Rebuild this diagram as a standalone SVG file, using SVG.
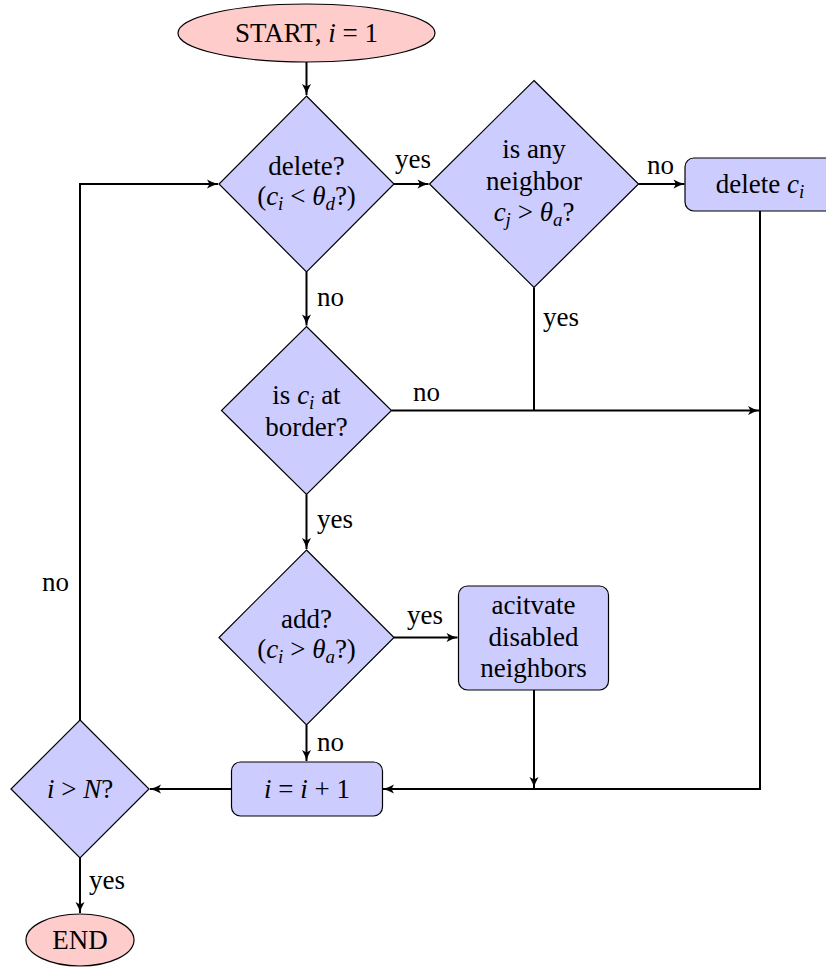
<svg xmlns="http://www.w3.org/2000/svg" width="826" height="967" viewBox="0 0 826 967">
<defs>
<marker id="a" markerUnits="userSpaceOnUse" markerWidth="14" markerHeight="12" viewBox="-12 -6 14 12" refX="0" refY="0" orient="auto">
<path d="M-11,-4.5 Q-5,-1 0,0 Q-5,1 -11,4.5 L-8.5,0 Z" fill="#000"/>
</marker>
</defs>
<g id="connectors" fill="none" stroke="#000" stroke-width="2">
<path d="M306.5,62 V95" marker-end="url(#a)"/>
<path d="M394,184 H428.5" marker-end="url(#a)"/>
<path d="M638.5,184 H684.5" marker-end="url(#a)"/>
<path d="M306.5,272 V325.5" marker-end="url(#a)"/>
<path d="M391.5,410.5 H759" marker-end="url(#a)"/>
<path d="M534,287.5 V410.5"/>
<path d="M760,211 V789 H383" marker-end="url(#a)"/>
<path d="M306.5,494.5 V549" marker-end="url(#a)"/>
<path d="M394,637.5 H457.5" marker-end="url(#a)"/>
<path d="M534,690 V788" marker-end="url(#a)"/>
<path d="M306.5,725 V761" marker-end="url(#a)"/>
<path d="M231.5,789 H150" marker-end="url(#a)"/>
<path d="M80,858 V913" marker-end="url(#a)"/>
<path d="M80,720 V184 H218" marker-end="url(#a)"/>
</g>
<g id="labels">
<text font-family="Liberation Serif" font-size="27" x="395" y="168">yes</text>
<text font-family="Liberation Serif" font-size="27" x="647" y="174">no</text>
<text font-family="Liberation Serif" font-size="27" x="317" y="306">no</text>
<text font-family="Liberation Serif" font-size="27" x="543" y="326">yes</text>
<text font-family="Liberation Serif" font-size="27" x="413" y="401">no</text>
<text font-family="Liberation Serif" font-size="27" x="317" y="528">yes</text>
<text font-family="Liberation Serif" font-size="27" x="42" y="591">no</text>
<text font-family="Liberation Serif" font-size="27" x="407" y="624">yes</text>
<text font-family="Liberation Serif" font-size="27" x="317" y="751">no</text>
<text font-family="Liberation Serif" font-size="27" x="89" y="889">yes</text>
</g>
<g id="start">
<ellipse cx="306.5" cy="33" rx="128.5" ry="29" fill="#ffcccc" stroke="#000" stroke-width="1.2"/>
<text font-family="Liberation Serif" font-size="27" text-anchor="middle" x="306.5" y="42">START, <tspan font-style="italic">i</tspan> = 1</text>
</g>
<g id="delete">
<polygon points="306.5,96 394,184 306.5,272 219,184" fill="#ccccff" stroke="#000" stroke-width="1.2"/>
<text font-family="Liberation Serif" font-size="27" text-anchor="middle" x="306.5" y="175">delete?</text>
<text font-family="Liberation Serif" font-size="27" text-anchor="middle" x="306.5" y="205">(<tspan font-style="italic">c</tspan><tspan font-style="italic" font-size="19" dy="5">i</tspan><tspan dy="-5"> &lt; </tspan><tspan font-style="italic">θ</tspan><tspan font-style="italic" font-size="19" dy="5">d</tspan><tspan dy="-5">?)</tspan></text>
</g>
<g id="neighbor">
<polygon points="534,80.5 638.5,184 534,287.5 429.5,184" fill="#ccccff" stroke="#000" stroke-width="1.2"/>
<text font-family="Liberation Serif" font-size="27" text-anchor="middle" x="534" y="158">is any</text>
<text font-family="Liberation Serif" font-size="27" text-anchor="middle" x="534" y="190">neighbor</text>
<text font-family="Liberation Serif" font-size="27" text-anchor="middle" x="534" y="221"><tspan font-style="italic">c</tspan><tspan font-style="italic" font-size="19" dy="5">j</tspan><tspan dy="-5"> &gt; </tspan><tspan font-style="italic">θ</tspan><tspan font-style="italic" font-size="19" dy="5">a</tspan><tspan dy="-5">?</tspan></text>
</g>
<g id="deleteci">
<rect x="685" y="158" width="150" height="53" rx="9" fill="#ccccff" stroke="#000" stroke-width="1.2"/>
<text font-family="Liberation Serif" font-size="27" text-anchor="middle" x="760" y="193">delete <tspan font-style="italic">c</tspan><tspan font-style="italic" font-size="19" dy="5">i</tspan></text>
</g>
<g id="border">
<polygon points="306.5,326.5 391.5,410.5 306.5,494.5 221.5,410.5" fill="#ccccff" stroke="#000" stroke-width="1.2"/>
<text font-family="Liberation Serif" font-size="27" text-anchor="middle" x="306.5" y="404">is <tspan font-style="italic">c</tspan><tspan font-style="italic" font-size="19" dy="5">i</tspan><tspan dy="-5"> at</tspan></text>
<text font-family="Liberation Serif" font-size="27" text-anchor="middle" x="306.5" y="436">border?</text>
</g>
<g id="add">
<polygon points="306.5,550 394,637.5 306.5,725 219,637.5" fill="#ccccff" stroke="#000" stroke-width="1.2"/>
<text font-family="Liberation Serif" font-size="27" text-anchor="middle" x="306.5" y="628">add?</text>
<text font-family="Liberation Serif" font-size="27" text-anchor="middle" x="306.5" y="658">(<tspan font-style="italic">c</tspan><tspan font-style="italic" font-size="19" dy="5">i</tspan><tspan dy="-5"> &gt; </tspan><tspan font-style="italic">θ</tspan><tspan font-style="italic" font-size="19" dy="5">a</tspan><tspan dy="-5">?)</tspan></text>
</g>
<g id="activate">
<rect x="458.5" y="586" width="150" height="104" rx="9" fill="#ccccff" stroke="#000" stroke-width="1.2"/>
<text font-family="Liberation Serif" font-size="27" text-anchor="middle" x="533.5" y="614">acitvate</text>
<text font-family="Liberation Serif" font-size="27" text-anchor="middle" x="533.5" y="646">disabled</text>
<text font-family="Liberation Serif" font-size="27" text-anchor="middle" x="533.5" y="677">neighbors</text>
</g>
<g id="increment">
<rect x="231.5" y="762" width="151" height="54" rx="9" fill="#ccccff" stroke="#000" stroke-width="1.2"/>
<text font-family="Liberation Serif" font-size="27" text-anchor="middle" x="307" y="798"><tspan font-style="italic">i</tspan> = <tspan font-style="italic">i</tspan> + 1</text>
</g>
<g id="check">
<polygon points="80,720 149,789 80,858 11,789" fill="#ccccff" stroke="#000" stroke-width="1.2"/>
<text font-family="Liberation Serif" font-size="27" text-anchor="middle" x="80" y="798"><tspan font-style="italic">i</tspan> &gt; <tspan font-style="italic">N</tspan>?</text>
</g>
<g id="end">
<ellipse cx="80" cy="940" rx="54" ry="26" fill="#ffcccc" stroke="#000" stroke-width="1.2"/>
<text font-family="Liberation Serif" font-size="27" text-anchor="middle" x="80" y="949">END</text>
</g>
</svg>
